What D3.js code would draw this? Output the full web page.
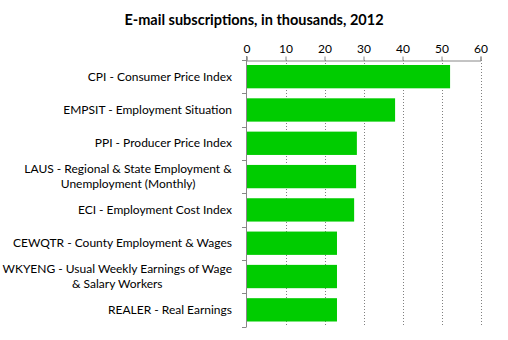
<!DOCTYPE html>
<html><head><meta charset="utf-8">
<script src="https://cdn.jsdelivr.net/npm/d3@7"></script>
<style>body{margin:0;background:#fff}svg{display:block}</style>
</head><body>
<script>
const categories = [
  ["CPI - Consumer Price Index"],
  ["EMPSIT - Employment Situation"],
  ["PPI - Producer Price Index"],
  ["LAUS - Regional & State Employment &", "Unemployment (Monthly)"],
  ["ECI - Employment Cost Index"],
  ["CEWQTR - County Employment & Wages"],
  ["WKYENG - Usual Weekly Earnings of Wage", "& Salary Workers"],
  ["REALER - Real Earnings"]
];
const values = [52.2, 38.1, 28.3, 28.1, 27.6, 23.2, 23.2, 23.2];
const tickValues = [0, 10, 20, 30, 40, 50, 60];
const title = "E-mail subscriptions, in thousands, 2012";

const W = 508, H = 340;
const svg = d3.select("body").append("svg").attr("width", W).attr("height", H);
const font = "Lato, 'Open Sans', sans-serif";

const x = d3.scaleLinear().domain([0, 60]).range([246.5, 480.5]);
const y = d3.scaleBand().domain(d3.range(categories.length)).range([60, 326.5]).paddingInner(0.3).paddingOuter(0.15);

svg.append("text").attr("x", 254).attr("y", 25).attr("text-anchor", "middle")
  .attr("font-family", font).attr("font-weight", "bold").attr("font-size", 14.5).attr("fill", "#000").text(title);

// gridlines
svg.append("g").selectAll("line").data(tickValues.slice(1)).join("line")
  .attr("x1", d => Math.round(x(d)) + 0.5).attr("x2", d => Math.round(x(d)) + 0.5)
  .attr("y1", 60).attr("y2", 326.5)
  .attr("stroke", "#808080").attr("stroke-dasharray", "1,2");

// bars
svg.append("g").selectAll("rect").data(values).join("rect")
  .attr("x", x(0)).attr("y", (d, i) => y(i)).attr("width", d => x(d) - x(0)).attr("height", y.bandwidth())
  .attr("fill", "#00cc00");

// top axis
const xAxis = d3.axisTop(x).tickValues(tickValues).tickSize(4).tickPadding(4);
const gx = svg.append("g").attr("transform", "translate(0,60.5)").call(xAxis);
gx.select(".domain").attr("stroke", "#888");
gx.selectAll(".tick line").attr("stroke", "#888");
gx.selectAll("text").attr("font-family", font).attr("font-size", 12).attr("fill", "#000");

// left axis
const bandEdges = d3.range(categories.length + 1).map(i => 60 + i * (266.5 / categories.length));
const gy = svg.append("g");
gy.append("line").attr("x1", 246.5).attr("x2", 246.5).attr("y1", 56).attr("y2", 327).attr("stroke", "#888");
gy.selectAll("line.t").data(bandEdges).join("line").attr("class", "t")
  .attr("x1", 242).attr("x2", 246.5).attr("y1", d => Math.round(d) + 0.5).attr("y2", d => Math.round(d) + 0.5)
  .attr("stroke", "#888");

// labels
const lbl = svg.append("g");
categories.forEach((lines, i) => {
  const cy = y(i) + y.bandwidth() / 2;
  const n = lines.length;
  const t = lbl.append("text").attr("font-family", font).attr("font-size", 12).attr("fill", "#000");
  lines.forEach((s, j) => {
    t.append("tspan").attr("x", 0).attr("y", cy + (j - (n - 1) / 2) * 15).attr("dy", "0.35em")
      .attr("text-anchor", "middle").text(s);
  });
  // right-align block at x=232, lines centered within block
  const bb = t.node().getBBox();
  t.attr("transform", `translate(${232 - bb.width / 2},0)`);
});
</script>
</body></html>
